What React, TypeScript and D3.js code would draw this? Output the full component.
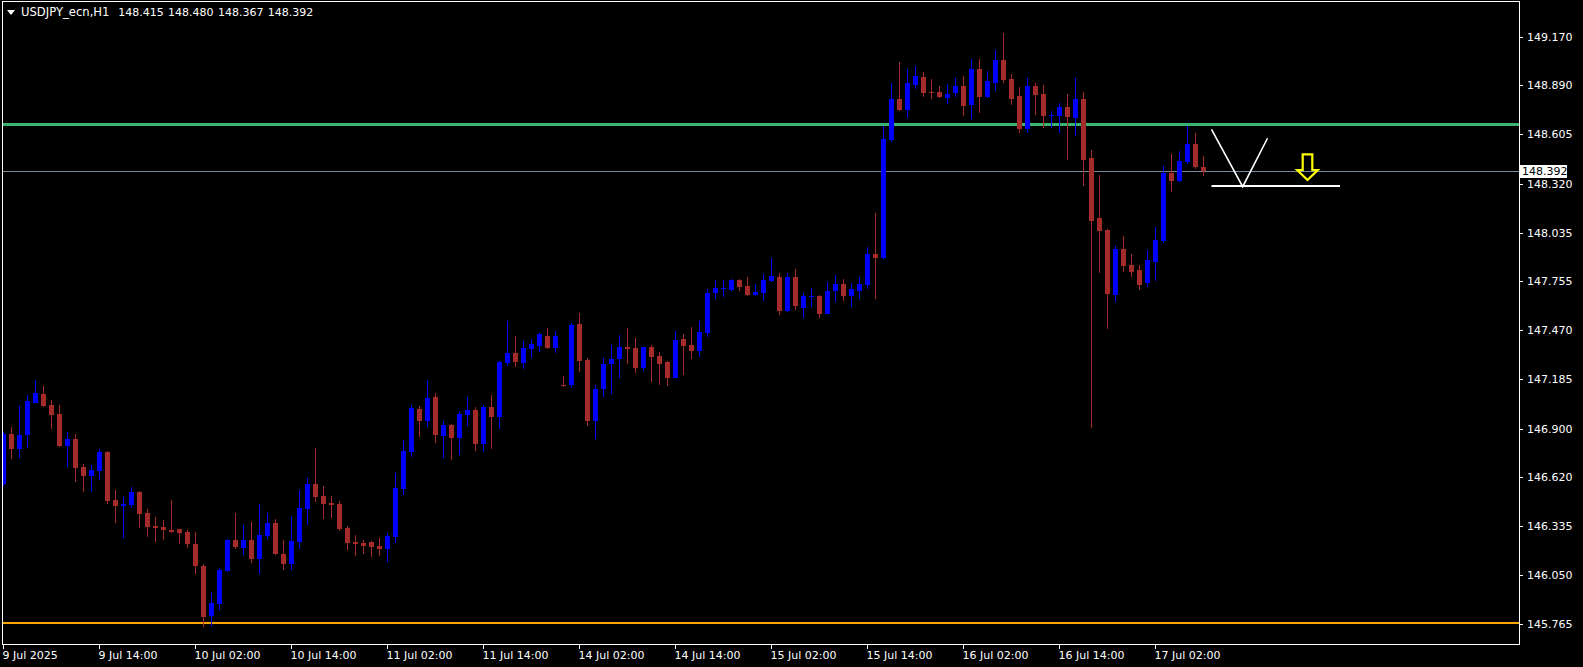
import React from "react";
import * as d3 from "d3";

const W = 1583;
const H = 667;

// ---- data (USDJPY_ecn H1) ----
const opens = [146.580,146.869,146.782,146.863,147.050,147.100,147.037,146.985,146.801,146.840,146.677,146.627,146.654,146.765,146.486,146.453,146.459,146.532,146.411,146.335,146.329,146.312,146.318,146.301,146.231,146.103,145.815,145.885,146.074,146.254,146.209,146.254,146.146,146.279,146.353,146.173,146.117,146.244,146.434,146.579,146.509,146.469,146.463,146.324,146.243,146.237,146.243,146.219,146.202,146.272,146.550,146.766,147.013,146.944,147.083,146.857,146.921,146.846,146.979,147.008,146.811,147.025,146.967,147.280,147.338,147.280,147.361,147.379,147.437,147.367,147.150,147.153,147.506,147.298,146.944,147.130,147.274,147.305,147.373,147.367,147.253,147.373,147.321,147.286,147.195,147.419,147.385,147.351,147.454,147.686,147.709,147.703,147.761,147.727,147.674,147.686,147.756,147.779,147.582,147.779,147.601,147.663,147.669,147.566,147.698,147.738,147.669,147.698,147.732,147.912,147.889,148.575,148.811,148.747,148.892,148.938,148.851,148.851,148.816,148.845,148.886,148.776,148.984,148.822,148.903,149.037,148.927,148.828,148.637,148.886,148.840,148.715,148.712,148.764,148.700,148.811,148.469,148.121,148.051,147.674,147.941,147.848,147.819,147.744,147.866,147.987,148.381,148.335,148.445,148.550,148.415];
const highs = [146.880,146.909,147.031,147.095,147.182,147.147,147.066,147.037,146.880,146.869,146.694,146.689,146.782,146.768,146.544,146.503,146.561,146.535,146.434,146.387,146.370,146.486,146.320,146.312,146.301,146.115,145.953,146.092,146.260,146.411,146.341,146.358,146.463,146.411,146.376,146.254,146.393,146.544,146.614,146.788,146.567,146.509,146.480,146.335,146.283,146.254,146.249,146.266,146.295,146.643,146.834,147.037,147.031,147.182,147.106,146.944,146.927,147.002,147.083,147.025,147.037,147.095,147.292,147.524,147.437,147.408,147.419,147.454,147.483,147.466,147.205,147.512,147.570,147.309,147.153,147.309,147.385,147.442,147.483,147.425,147.373,147.385,147.344,147.292,147.466,147.448,147.489,147.524,147.709,147.761,147.761,147.767,147.767,147.779,147.738,147.796,147.889,147.802,147.802,147.825,147.686,147.715,147.674,147.750,147.790,147.767,147.744,147.779,147.953,148.150,148.654,148.903,149.025,148.985,149.002,148.967,148.927,148.886,148.898,148.932,148.944,149.042,149.042,148.973,149.095,149.193,148.956,148.880,148.932,148.903,148.892,148.741,148.787,148.840,148.932,148.851,148.515,148.370,148.057,147.958,148.016,147.912,147.848,147.935,148.068,148.422,148.492,148.509,148.654,148.613,148.480];
const lows = [146.567,146.725,146.731,146.789,147.048,147.025,146.898,146.795,146.677,146.590,146.532,146.532,146.602,146.463,146.353,146.266,146.441,146.324,146.273,146.243,146.254,146.295,146.231,146.208,146.057,145.752,145.757,145.850,146.068,146.204,146.167,146.122,146.059,146.262,146.169,146.082,146.082,146.202,146.343,146.474,146.376,146.382,146.306,146.196,146.161,146.173,146.156,146.161,146.127,146.237,146.515,146.736,146.851,146.910,146.817,146.729,146.718,146.747,146.915,146.770,146.765,146.782,146.898,147.263,147.257,147.245,147.309,147.344,147.361,147.338,147.139,147.135,147.228,146.915,146.840,147.083,147.100,147.195,147.276,147.224,147.236,147.172,147.154,147.148,147.193,147.212,147.305,147.315,147.433,147.651,147.663,147.698,147.698,147.669,147.669,147.640,147.750,147.558,147.576,147.587,147.543,147.605,147.543,147.564,147.634,147.640,147.605,147.651,147.709,147.651,147.883,148.563,148.741,148.702,148.869,148.822,148.811,148.816,148.782,148.822,148.712,148.695,148.729,148.816,148.857,148.903,148.776,148.613,148.613,148.718,148.642,148.642,148.613,148.457,148.596,148.306,146.902,147.802,147.477,147.634,147.808,147.779,147.703,147.721,147.755,147.976,148.272,148.329,148.434,148.405,148.367];
const closes = [146.869,146.782,146.863,147.060,147.106,147.031,146.979,146.799,146.840,146.673,146.627,146.660,146.765,146.480,146.451,146.463,146.532,146.405,146.331,146.325,146.314,146.301,146.295,146.233,146.103,145.808,145.889,146.080,146.254,146.215,146.254,146.146,146.283,146.353,146.175,146.117,146.248,146.440,146.579,146.503,146.463,146.457,146.318,146.237,146.231,146.219,146.214,146.204,146.277,146.556,146.770,147.019,146.944,147.077,146.863,146.921,146.846,146.985,147.008,146.811,147.025,146.967,147.286,147.338,147.286,147.367,147.390,147.448,147.367,147.437,147.147,147.500,147.292,146.944,147.130,147.274,147.303,147.373,147.363,147.253,147.373,147.317,147.276,147.195,147.414,147.379,147.351,147.460,147.686,147.715,147.715,147.761,147.721,147.674,147.692,147.761,147.785,147.582,147.779,147.611,147.669,147.669,147.566,147.698,147.738,147.669,147.709,147.738,147.912,147.889,148.579,148.811,148.747,148.903,148.944,148.845,148.847,148.822,148.840,148.886,148.770,148.984,148.822,148.915,149.037,148.921,148.811,148.637,148.886,148.834,148.712,148.718,148.764,148.706,148.811,148.457,148.103,148.045,147.680,147.941,147.842,147.808,147.732,147.877,147.993,148.381,148.335,148.451,148.550,148.416,148.392];

const timeLabels = ["9 Jul 2025","9 Jul 14:00","10 Jul 02:00","10 Jul 14:00","11 Jul 02:00","11 Jul 14:00","14 Jul 02:00","14 Jul 14:00","15 Jul 02:00","15 Jul 14:00","16 Jul 02:00","16 Jul 14:00","17 Jul 02:00"];
const timeLabelStep = 12;
const priceTicks = [149.170,148.890,148.605,148.320,148.035,147.755,147.470,147.185,146.900,146.620,146.335,146.050,145.765];

const symbolTitle = "USDJPY_ecn,H1";
const headerValues = ["148.415","148.480","148.367","148.392"];
const bidPrice = 148.392;
const greenLevel = 148.664;
const orangeLevel = 145.773;

// hand drawn objects (bar index, price)
const vLinePts = [{ i: 151.0, p: 148.635 }, { i: 154.9, p: 148.302 }, { i: 158.0, p: 148.583 }];
const hLinePts = [{ i: 151.0, p: 148.306 }, { i: 167.06, p: 148.306 }];
const arrowPt = { i: 163.0, p: 148.490 };

const BULL = "#0000ff";
const BEAR = "#a52a2a";

export default function App() {
  const x = d3.scaleLinear().domain([0, 150]).range([3.5, 1203.5]);
  const y = d3.scaleLinear().domain([145.765, 149.17]).range([624.3, 37]);

  const frameL = 2.5, frameR = 1519.5, frameT = 1.5, frameB = 644.5;
  const font = "'DejaVu Sans', Verdana, sans-serif";

  const line = d3.line<{ i: number; p: number }>().x((d) => x(d.i)).y((d) => y(d.p));

  const ax = x(arrowPt.i);
  const at = y(arrowPt.p);
  const arrowPath = `M${ax - 4.8},${at} L${ax + 4.8},${at} L${ax + 4.8},${at + 15.7} L${ax + 10.3},${at + 15.7} L${ax},${at + 25.7} L${ax - 10.3},${at + 15.7} L${ax - 4.8},${at + 15.7} Z`;

  const by = y(bidPrice);

  return (
    <svg
      width={W}
      height={H}
      style={{ position: "absolute", left: 0, top: 0, display: "block" }}
      xmlns="http://www.w3.org/2000/svg"
    >
      <defs>
        <clipPath id="plot">
          <rect x={3} y={2} width={1516} height={642} />
        </clipPath>
      </defs>
      <rect x={0} y={0} width={W} height={H} fill="#000" />

      <g clipPath="url(#plot)" shapeRendering="crispEdges">
        {/* horizontal levels */}
        <line x1={3} x2={1519} y1={y(greenLevel)} y2={y(greenLevel)} stroke="#3cb371" strokeWidth={3} />
        <line x1={3} x2={1519} y1={y(orangeLevel)} y2={y(orangeLevel)} stroke="#ffa500" strokeWidth={2} />
        <line x1={3} x2={1519} y1={by} y2={by} stroke="#778899" strokeWidth={1} />

        {opens.map((o, i) => {
          const c = closes[i];
          const hi = Math.max(highs[i], o, c);
          const lo = Math.min(lows[i], o, c);
          const col = c >= o ? BULL : BEAR;
          const cx = x(i);
          const top = y(Math.max(o, c));
          const bot = y(Math.min(o, c));
          return (
            <g key={i}>
              <line x1={cx} x2={cx} y1={y(hi)} y2={y(lo)} stroke={col} strokeWidth={1} />
              <rect x={cx - 2.5} y={top} width={5} height={Math.max(1, bot - top)} fill={col} />
            </g>
          );
        })}
      </g>

      {/* drawn objects */}
      <path d={line(vLinePts) || ""} fill="none" stroke="#fff" strokeWidth={1.6} />
      <path d={line(hLinePts) || ""} fill="none" stroke="#fff" strokeWidth={2.2} />
      <path d={arrowPath} fill="none" stroke="#ffff00" strokeWidth={2.2} strokeLinejoin="miter" />

      {/* frame */}
      <rect
        x={frameL}
        y={frameT}
        width={frameR - frameL}
        height={frameB - frameT}
        fill="none"
        stroke="#fff"
        strokeWidth={1}
        shapeRendering="crispEdges"
      />

      {/* header */}
      <path d="M7,10 L15,10 L11,15 Z" fill="#fff" />
      <text x={21} y={16} fill="#fff" fontFamily={font} fontSize={11.6}>
        {symbolTitle}
      </text>
      {headerValues.map((v, k) => (
        <text key={v + k} x={118.3 + k * 49.8} y={16} fill="#fff" fontFamily={font} fontSize={11}>
          {v}
        </text>
      ))}

      {/* price axis */}
      {priceTicks.map((p) => (
        <g key={p}>
          <line x1={1519} x2={1523} y1={Math.round(y(p)) + 0.5} y2={Math.round(y(p)) + 0.5} stroke="#fff" shapeRendering="crispEdges" />
          <text x={1527} y={y(p) + 4} fill="#fff" fontFamily={font} fontSize={11}>
            {p.toFixed(3)}
          </text>
        </g>
      ))}
      <rect x={1520} y={by - 6.5} width={47} height={13} fill="#fff" shapeRendering="crispEdges" />
      <text x={1522} y={by + 4} fill="#000" fontFamily={font} fontSize={11}>
        {bidPrice.toFixed(3)}
      </text>

      {/* time axis */}
      {timeLabels.map((t, k) => {
        const tx = x(k * timeLabelStep);
        return (
          <g key={t}>
            <line x1={Math.floor(tx) + 0.5} x2={Math.floor(tx) + 0.5} y1={645} y2={649} stroke="#fff" shapeRendering="crispEdges" />
            <text x={tx - 1} y={658.5} fill="#fff" fontFamily={font} fontSize={11}>
              {t}
            </text>
          </g>
        );
      })}
    </svg>
  );
}
